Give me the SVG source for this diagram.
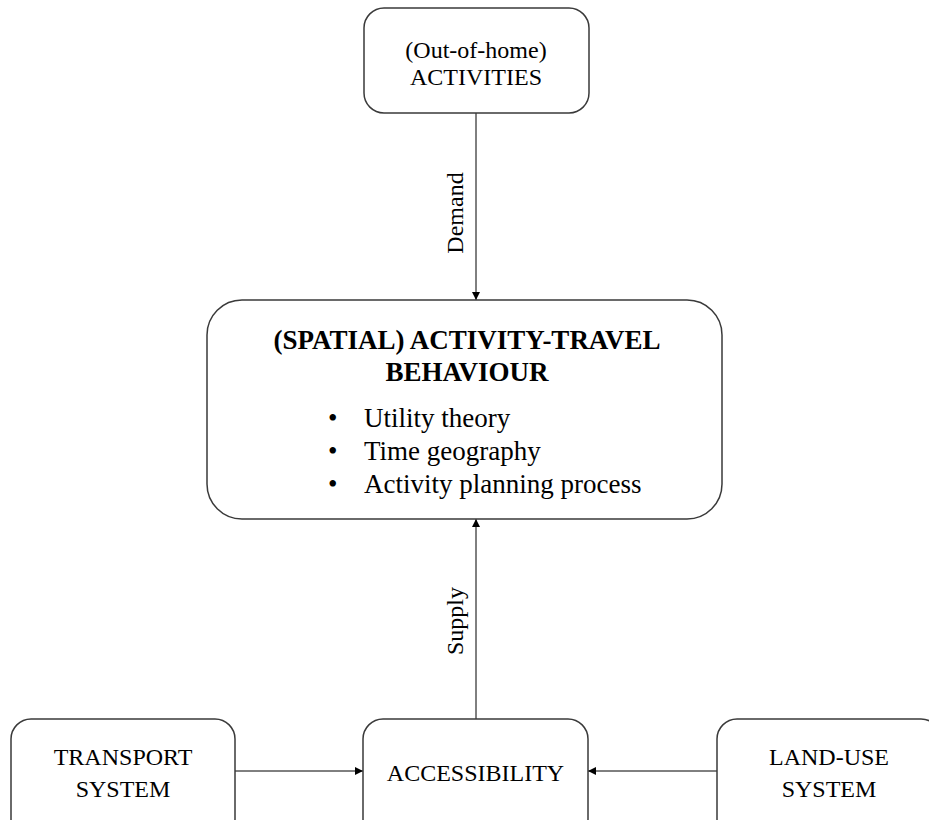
<svg xmlns="http://www.w3.org/2000/svg" width="929" height="820" viewBox="0 0 929 820">
<style>
.box{fill:#fff;stroke:#3a3a3a;stroke-width:1.5}
.t{font-family:"Liberation Serif","Times New Roman",serif;font-size:24px;fill:#000;text-anchor:middle}
.b{font-family:"Liberation Serif","Times New Roman",serif;font-size:27px;font-weight:bold;fill:#000;text-anchor:middle}
.li{font-family:"Liberation Serif","Times New Roman",serif;font-size:27px;fill:#000}
.c{stroke:#000;stroke-width:1;fill:none}
</style>
<defs>
<marker id="ah" viewBox="0 0 10 10" refX="10" refY="5" markerWidth="8" markerHeight="8" markerUnits="userSpaceOnUse" orient="auto">
<path d="M0,0 L10,5 L0,10 z" fill="#000"/>
</marker>
</defs>
<rect width="929" height="820" fill="#fff"/>
<g id="connectors">
<line class="c" x1="476" y1="113" x2="476" y2="300" marker-end="url(#ah)"/>
<line class="c" x1="476" y1="719" x2="476" y2="519" marker-end="url(#ah)"/>
<line class="c" x1="235" y1="771" x2="363" y2="771" marker-end="url(#ah)"/>
<line class="c" x1="717" y1="771" x2="588" y2="771" marker-end="url(#ah)"/>
<text class="t" transform="translate(463,213) rotate(-90)">Demand</text>
<text class="t" transform="translate(463,621) rotate(-90)">Supply</text>
</g>
<g id="activities">
<rect class="box" x="364" y="8" width="225" height="105" rx="20" ry="20"/>
<text class="t" x="476" y="58">(Out-of-home)</text>
<text class="t" x="476" y="85">ACTIVITIES</text>
</g>
<g id="behaviour">
<rect class="box" x="207" y="300" width="515" height="219" rx="35" ry="35"/>
<text class="b" x="467" y="349">(SPATIAL) ACTIVITY-TRAVEL</text>
<text class="b" x="467" y="381">BEHAVIOUR</text>
<text class="li" x="328" y="427">•</text>
<text class="li" x="364" y="427">Utility theory</text>
<text class="li" x="328" y="460">•</text>
<text class="li" x="364" y="460">Time geography</text>
<text class="li" x="328" y="493">•</text>
<text class="li" x="364" y="493">Activity planning process</text>
</g>
<g id="transport">
<rect class="box" x="11" y="719" width="224" height="120" rx="20" ry="20"/>
<text class="t" x="123" y="765">TRANSPORT</text>
<text class="t" x="123" y="797">SYSTEM</text>
</g>
<g id="accessibility">
<rect class="box" x="363" y="719" width="225" height="120" rx="20" ry="20"/>
<text class="t" x="475.5" y="781">ACCESSIBILITY</text>
</g>
<g id="landuse">
<rect class="box" x="717" y="719" width="224" height="120" rx="20" ry="20"/>
<text class="t" x="829" y="765">LAND-USE</text>
<text class="t" x="829" y="797">SYSTEM</text>
</g>
</svg>
